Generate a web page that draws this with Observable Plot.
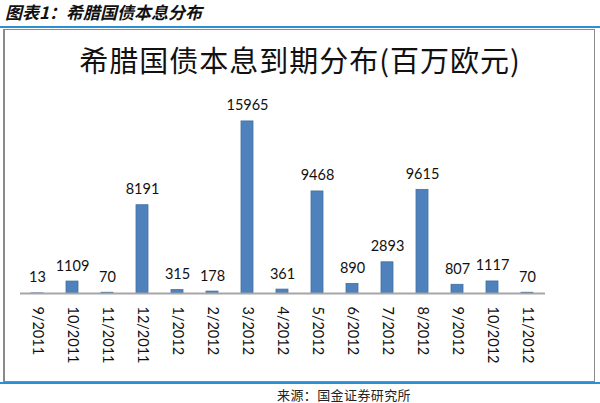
<!DOCTYPE html>
<html>
<head>
<meta charset="utf-8">
<script src="https://cdn.jsdelivr.net/npm/d3@7"></script>
<script src="https://cdn.jsdelivr.net/npm/@observablehq/plot@0.6"></script>
<style>
  html, body { margin: 0; padding: 0; background: #fff; }
  #page { position: relative; width: 600px; height: 403px; overflow: hidden; font-family: "Noto Sans CJK SC", sans-serif; }
  #hdr { position: absolute; left: 5px; top: 2px; font-size: 17px; font-weight: bold; font-style: italic; color: #111; line-height: 20px; }
  .blue { position: absolute; left: 0; width: 600px; height: 2px; background: #2a8fd4; }
  #frame { position: absolute; left: 3px; top: 29px; width: 592px; height: 353px; box-sizing: border-box; border: 1px solid #8a8a8a; border-left: 2px solid #8a8a8a; }
  #ctitle { position: absolute; left: 0; width: 600px; top: 41px; text-align: center; font-size: 29px; letter-spacing: 1px; line-height: 36px; color: #111; }
  #src { position: absolute; left: 277px; top: 386px; font-size: 13px; letter-spacing: 0.4px; line-height: 18px; color: #222; }
  #chart { position: absolute; left: 0; top: 80px; }
</style>
</head>
<body>
<div id="page">
  <div id="hdr">图表1：希腊国债本息分布</div>
  <div class="blue" style="top:26px"></div>
  <div id="frame"></div>
  <div class="blue" style="top:382px"></div>
  <div id="ctitle">希腊国债本息到期分布(百万欧元)</div>
  <div id="chart"></div>
  <div id="src">来源：国金证券研究所</div>
</div>
<script>
const months = ["9/2011","10/2011","11/2011","12/2011","1/2012","2/2012","3/2012","4/2012","5/2012","6/2012","7/2012","8/2012","9/2012","10/2012","11/2012"];
const values = [13, 1109, 70, 8191, 315, 178, 15965, 361, 9468, 890, 2893, 9615, 807, 1117, 70];

const data = months.map((m, i) => ({month: m, value: values[i]}));

const chart = Plot.plot({
  width: 600,
  height: 300,
  marginLeft: 20,
  marginRight: 55,
  marginTop: 19,
  marginBottom: 87,
  style: {fontFamily: "Lato, 'Open Sans', sans-serif", background: "transparent", overflow: "visible"},
  x: {domain: months, paddingInner: 0.65, paddingOuter: 0.325, label: null},
  y: {domain: [0, 18000], axis: null},
  marks: [
    Plot.barY(data, {x: "month", y: "value", fill: "#4f81bd", stroke: "#41709f", strokeWidth: 0.8}),
    Plot.ruleY([0], {stroke: "#a6a6a6", strokeWidth: 2}),
    Plot.text(data, {x: "month", y: "value", text: d => String(d.value), lineAnchor: "bottom", dy: -11, fontSize: 14.5, fill: "#111"}),
    Plot.axisX({tickSize: 0, tickPadding: 13, tickRotate: 90, fontSize: 14.5, fill: "#111", label: null})
  ]
});
document.getElementById("chart").appendChild(chart);
</script>
</body>
</html>
